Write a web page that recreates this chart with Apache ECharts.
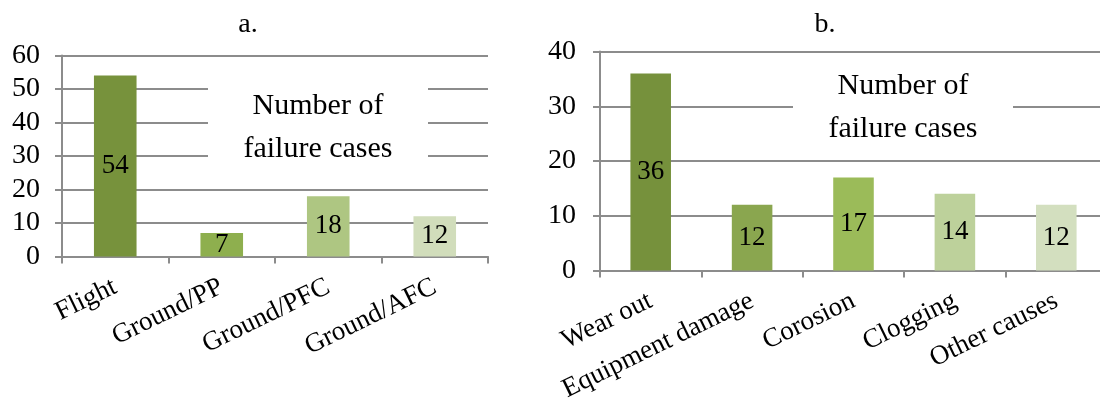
<!DOCTYPE html>
<html>
<head>
<meta charset="utf-8">
<script src="https://cdn.jsdelivr.net/npm/echarts@6/dist/echarts.min.js"></script>
<style>
  html, body { margin: 0; padding: 0; background: #fff; }
  #chart { width: 1100px; height: 401px; }
</style>
</head>
<body>
<div id="chart"></div>
<script>
// Panel a: failure cases by flight phase
const phaseCategories = ['Flight', 'Ground/PP', 'Ground/PFC', 'Ground/AFC'];
const phaseValues = [54, 7, 18, 12];
const phaseColors = ['#77923c', '#8eaf4e', '#aec682', '#d1ddbb'];
const phaseTicks = [0, 60, 10]; // min, max, step

// Panel b: failure cases by cause
const causeCategories = ['Wear out', 'Equipment damage', 'Corosion', 'Clogging', 'Other causes'];
const causeValues = [36, 12, 17, 14, 12];
const causeColors = ['#76913c', '#8aa64f', '#9bbb59', '#bdd19b', '#d3dfbf'];
const causeTicks = [0, 40, 10];

const panelTitles = ['a.', 'b.'];
const boxText = 'Number of\nfailure cases';

const FONT = 'Liberation Serif';
const GRID_GRAY = '#8c8c8c';

function yAxis(gridIndex, ticks, margin) {
  return {
    type: 'value', gridIndex, min: ticks[0], max: ticks[1], interval: ticks[2],
    axisLine: { show: true, lineStyle: { color: GRID_GRAY, width: 2 } },
    axisTick: { show: true, length: 7, lineStyle: { color: GRID_GRAY, width: 2 } },
    splitLine: { show: true, lineStyle: { color: GRID_GRAY, width: 2 } },
    axisLabel: { color: '#000', fontFamily: FONT, fontSize: 28, margin }
  };
}

function xAxis(gridIndex, cats) {
  return {
    type: 'category', gridIndex, data: cats,
    axisLine: { show: true, lineStyle: { color: GRID_GRAY, width: 2 } },
    axisTick: { show: true, length: 7, alignWithLabel: false, lineStyle: { color: GRID_GRAY, width: 2 } },
    axisLabel: { color: '#000', fontFamily: FONT, fontSize: 27, rotate: 26, margin: 29, interval: 0 }
  };
}

function barSeries(idx, values, colors) {
  return {
    type: 'bar', xAxisIndex: idx, yAxisIndex: idx, barWidth: '40%',
    data: values.map((v, i) => ({ value: v, itemStyle: { color: colors[i] } })),
    label: { show: true, position: 'inside', color: '#000', fontFamily: FONT, fontSize: 27 }
  };
}

// White text box that sits over the grid lines
function textBox(x, y, w, h) {
  return {
    type: 'group', z: 100,
    children: [
      { type: 'rect', shape: { x, y, width: w, height: h }, style: { fill: '#fff' }, z: 100 },
      { type: 'text', x: x + w / 2, y: y + h / 2, z: 101,
        style: { text: boxText, fontFamily: FONT, fontSize: 30, fill: '#000', align: 'center', verticalAlign: 'middle', lineHeight: 43 } }
    ]
  };
}

const chart = echarts.init(document.getElementById('chart'), null, { renderer: 'canvas' });
chart.setOption({
  animation: false,
  backgroundColor: '#fff',
  title: [
    { text: panelTitles[0], left: 248, top: 25, textAlign: 'center', textVerticalAlign: 'middle',
      textStyle: { fontFamily: FONT, fontSize: 28, fontWeight: 'normal', color: '#000' }, padding: 0 },
    { text: panelTitles[1], left: 825, top: 25, textAlign: 'center', textVerticalAlign: 'middle',
      textStyle: { fontFamily: FONT, fontSize: 28, fontWeight: 'normal', color: '#000' }, padding: 0 }
  ],
  grid: [
    { left: 62, top: 55.5, width: 426, height: 201, containLabel: false, outerBoundsMode: 'none' },
    { left: 600, top: 51.5, width: 507, height: 219, containLabel: false, outerBoundsMode: 'none' }
  ],
  xAxis: [xAxis(0, phaseCategories), xAxis(1, causeCategories)],
  yAxis: [yAxis(0, phaseTicks, 22), yAxis(1, causeTicks, 24)],
  series: [barSeries(0, phaseValues, phaseColors), barSeries(1, causeValues, causeColors)],
  graphic: [textBox(208, 80, 220, 96), textBox(793, 58, 220, 100)]
});
</script>
</body>
</html>
